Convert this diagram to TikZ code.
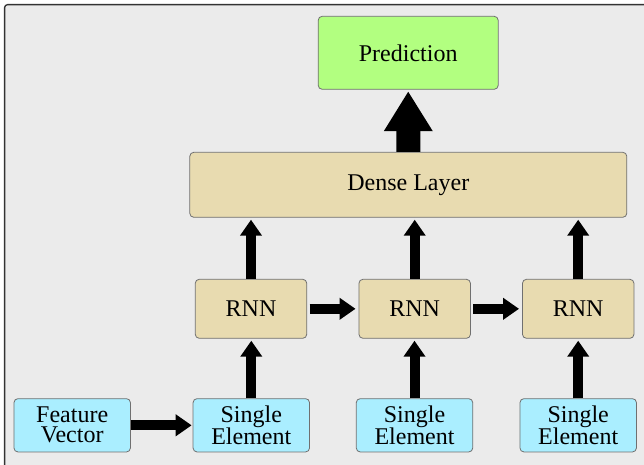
\documentclass[tikz,border=0pt]{standalone}
\usepackage{fontspec}
\setmainfont{Liberation Serif}
\usetikzlibrary{arrows.meta}
\definecolor{bgc}{HTML}{EBEBEB}
\definecolor{predc}{HTML}{B2FF80}
\definecolor{tanc}{HTML}{E8DBB0}
\definecolor{cyanc}{HTML}{AAEEFF}
\definecolor{edgec}{HTML}{707070}
\tikzset{
  box/.style={draw=edgec, line width=0.8pt, rounded corners=4pt, inner sep=0pt,
    font=\fontsize{24}{20}\selectfont, align=center},
  predbox/.style={box, fill=predc, minimum width=180pt, minimum height=73pt},
  densebox/.style={box, fill=tanc, minimum width=437pt, minimum height=65pt},
  rnnbox/.style={box, fill=tanc, minimum width=111.5pt, minimum height=59pt},
  inbox/.style={box, fill=cyanc, minimum width=116.5pt, minimum height=53.3pt},
  blk/.style={line width=10pt, -{Triangle[length=16pt,width=21pt]}, shorten >=2pt},
  bigblk/.style={line width=24pt, -{Triangle[length=40pt,width=46pt]}, shorten >=1.5pt}
}
\begin{document}
\begin{tikzpicture}[x=1pt,y=-1pt]
\useasboundingbox (0,0) rectangle (644,464);
\clip (0,0) rectangle (644,464);
\fill[white] (0,0) rectangle (644,464);
\draw[fill=bgc, draw=black!80, line width=1.3pt, rounded corners=3pt] (4.6,4.6) rectangle (670,490);

\node[predbox] (pred) at (408.2,52.8) {Prediction};
\node[densebox] (dense) at (408.3,184.8) {Dense Layer};
\node[rnnbox] (r1) at (251,308.8) {RNN};
\node[rnnbox] (r2) at (414.7,308.8) {RNN};
\node[rnnbox] (r3) at (578.2,308.8) {RNN};
\node[inbox] (fv) at (72.2,425.3) {Feature\\Vector};
\node[inbox] (s1) at (251.3,425.3) {Single\\Element};
\node[inbox] (s2) at (414.5,425.3) {Single\\Element};
\node[inbox] (s3) at (578.2,425.3) {Single\\Element};

\draw[bigblk] (dense.north) -- (pred.south);
\draw[blk] (r1.north) -- (r1.north |- dense.south);
\draw[blk] (r2.north) -- (r2.north |- dense.south);
\draw[blk] (r3.north) -- (r3.north |- dense.south);
\draw[blk] (s1.north) -- (s1.north |- r1.south);
\draw[blk] (s2.north) -- (s2.north |- r2.south);
\draw[blk] (s3.north) -- (s3.north |- r3.south);
\draw[blk, shorten >=1pt] (fv.east) -- (fv.east -| s1.west);
\draw[blk, shorten <=2.5pt, shorten >=3pt] (r1.east) -- (r2.west);
\draw[blk, shorten <=2.5pt, shorten >=3pt] (r2.east) -- (r3.west);
\end{tikzpicture}
\end{document}
